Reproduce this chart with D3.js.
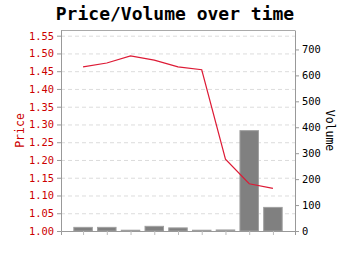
<!DOCTYPE html>
<html>
<head>
	<meta charset='utf-8'>
	<title>Price/Volume</title>
	<style>
		body { margin: 0; background: #fff; }
		text { font-family: 'DejaVu Sans Mono', monospace; }
		.grid line { stroke: #dcdcdc; stroke-dasharray: 4,3; }
		.grid path { stroke-width: 0; }
		.axis path { stroke: #999; }
		.axis line { stroke: #999; }
		.axis__price text { fill: #cc0000; font-size: 10.4px; }
		.axis__vol text { fill: #000; font-size: 10.4px; }
		.axis__x line { stroke: #bbb; }
		.line { fill: none; stroke: #dd1a35; stroke-width: 1.2px; }
		.bar { fill: #808080; stroke: #a0a0a0; stroke-width: 1px; }
	</style>
</head>
<body>
<script src='https://d3js.org/d3.v7.min.js'></script>
<script>
	'use strict';

	const categories = ['1', '2', '3', '4', '5', '6', '7', '8', '9'];
	const price = [1.462, 1.473, 1.493, 1.481, 1.462, 1.454, 1.202, 1.133, 1.120];
	const volume = [14, 14, 3, 18, 12, 3, 4, 387, 91];
	const priceTicks = [1.00, 1.05, 1.10, 1.15, 1.20, 1.25, 1.30, 1.35, 1.40, 1.45, 1.50, 1.55];
	const volumeTicks = [0, 100, 200, 300, 400, 500, 600, 700];

	const margin = {top: 30, right: 55, bottom: 24, left: 61};
	const width = 350 - margin.left - margin.right;
	const height = 255 - margin.top - margin.bottom;

	const svg = d3.select('body').append('svg')
		.attr('width', 350)
		.attr('height', 255);

	svg.append('text')
		.attr('x', 175)
		.attr('y', 20)
		.attr('text-anchor', 'middle')
		.style('font-size', '18px')
		.style('font-weight', 'bold')
		.text('Price/Volume over time');

	const g = svg.append('g')
		.attr('transform', 'translate(' + margin.left + ',' + margin.top + ')');

	const xScale = d3.scalePoint().domain(categories).range([0, width]).padding(0.93);
	const yPrice = d3.scaleLinear().domain([1, 1.566]).range([height, 0]);
	const yVol = d3.scaleLinear().domain([0, 775]).range([height, 0]);

	// сетка
	g.append('g')
		.attr('class', 'grid')
		.call(d3.axisLeft(yPrice).tickValues(priceTicks.slice(1)).tickSize(-width).tickFormat(''));

	const barW = 18.5;
	g.selectAll('.bar')
		.data(volume)
		.enter().append('rect')
		.attr('class', 'bar')
		.attr('x', function(d, i) {return xScale(categories[i]) - barW / 2;})
		.attr('y', function(d) {return yVol(d);})
		.attr('width', barW)
		.attr('height', function(d) {return height - yVol(d);});

	const valueline = d3.line()
		.x(function(d, i) {return xScale(categories[i]);})
		.y(function(d) {return yPrice(d);});

	g.append('path')
		.datum(price)
		.attr('class', 'line')
		.attr('d', valueline);

	// рамка сверху
	g.append('line')
		.attr('x1', 0).attr('x2', width)
		.attr('y1', 0.5).attr('y2', 0.5)
		.attr('stroke', '#aaa');

	g.append('g')
		.attr('class', 'axis axis__x')
		.attr('transform', 'translate(0,' + height + ')')
		.call(d3.axisBottom(xScale).tickSize(4).tickFormat(''))
		.select('path').attr('stroke', '#999');

	g.append('g')
		.attr('class', 'axis axis__price')
		.call(d3.axisLeft(yPrice).tickValues(priceTicks).tickSize(4).tickSizeOuter(0)
			.tickFormat(d3.format('.2f')));

	g.append('g')
		.attr('class', 'axis axis__vol')
		.attr('transform', 'translate(' + width + ',0)')
		.call(d3.axisRight(yVol).tickValues(volumeTicks).tickSize(4).tickSizeOuter(0));

	svg.append('text')
		.attr('transform', 'translate(24,' + (margin.top + height / 2) + ') rotate(-90)')
		.attr('text-anchor', 'middle')
		.style('font-size', '11.5px')
		.style('fill', '#cc0000')
		.text('Price');

	svg.append('text')
		.attr('transform', 'translate(326,' + (margin.top + height / 2) + ') rotate(90)')
		.attr('text-anchor', 'middle')
		.style('font-size', '11.5px')
		.style('fill', '#000')
		.text('Volume');
</script>
</body>
</html>
